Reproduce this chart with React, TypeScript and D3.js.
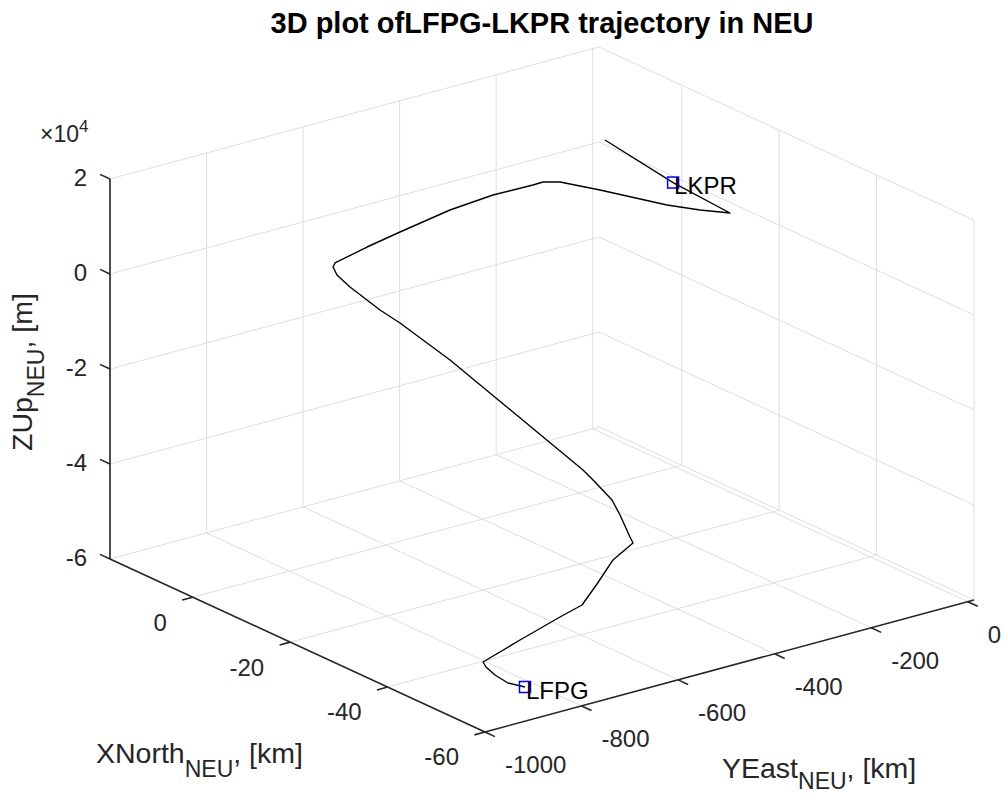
import React from "react";
import * as d3 from "d3";

// LFPG -> LKPR track in the local NEU frame (origin near LKPR)
const northKm = [
  -54.83, -52.33, -49.96, -48.11, -47.3, -51.82, -57.06, -59.1, -59.21, -59.02,
  -59.66, -58.65, -55.51, -52.87, -47.9, -44.44, -11.78, 0.47, 5.37, 12.72,
  15.89, 17.0, 16.85, 14.44, 11.96, 8.2, 4.97, 1.96, 1.2, -0.08,
  -3.09, -8.13, -10.62, -12.87, 0, 15.77,
];
const eastKm = [
  -865, -875, -878, -878, -876, -845, -815, -790, -760, -725,
  -690, -686, -675, -665, -650, -640, -586, -566, -558, -546,
  -541, -538, -535.4, -493.4, -450.1, -384.5, -328, -275.5, -262.4, -240.1,
  -187.6, -99.7, -56.4, -17, -5, 13,
];
const upM = [
  -56674, -56741, -56094, -55286, -54674, -48752, -42254, -39448, -35800, -31794,
  -28874, -28202, -25358, -23718, -22697, -22078, -15850, -14402, -14206, -13169,
  -12276, -11200, -10358, -7004, -3857, 753, 3889, 5977, 6606, 6600,
  4900, 1716, 650, 4, 0, 1004,
];

const airportNames = ["LFPG", "LKPR"];
const airportNorth = [-54.83, 0];
const airportEast = [-865, -5];
const airportUp = [-56674, 0];

const xLim = [-60, 17];
const yLim = [-1000, 13];
const zLim = [-60000, 20000];
const xTicks = [0, -20, -40, -60];
const yTicks = [-1000, -800, -600, -400, -200, 0];
const zTicks = [20000, 0, -20000, -40000, -60000];

const FONT = "'Liberation Sans', Arial, Helvetica, sans-serif";
const TXT = "#262626";
const GRID = "#dedede";

export default function App() {
  // projected box: corner (xmax, ymin, zmin) and the three edge vectors
  const o = [110, 559];
  const ex = [375, 173];
  const ey = [489, -132];
  const ez = [0, -380];

  const sx = d3.scaleLinear().domain([xLim[1], xLim[0]]).range([0, 1]);
  const sy = d3.scaleLinear().domain(yLim).range([0, 1]);
  const sz = d3.scaleLinear().domain(zLim).range([0, 1]);
  const P = (x: number, y: number, z: number): [number, number] => [
    o[0] + sx(x) * ex[0] + sy(y) * ey[0] + sz(z) * ez[0],
    o[1] + sx(x) * ex[1] + sy(y) * ey[1] + sz(z) * ez[1],
  ];
  const seg = (a: [number, number], b: [number, number]) =>
    `M${a[0]},${a[1]}L${b[0]},${b[1]}`;

  const [x0, x1] = xLim;
  const [y0, y1] = yLim;
  const [z0, z1] = zLim;

  const grid: string[] = [];
  // floor
  xTicks.forEach((v) => grid.push(seg(P(v, y0, z0), P(v, y1, z0))));
  yTicks.forEach((v) => grid.push(seg(P(x0, v, z0), P(x1, v, z0))));
  // back-left wall (x = xmax)
  yTicks.forEach((v) => grid.push(seg(P(x1, v, z0), P(x1, v, z1))));
  zTicks.forEach((v) => grid.push(seg(P(x1, y0, v), P(x1, y1, v))));
  // back-right wall (y = ymax)
  xTicks.forEach((v) => grid.push(seg(P(v, y1, z0), P(v, y1, z1))));
  zTicks.forEach((v) => grid.push(seg(P(x0, y1, v), P(x1, y1, v))));

  const tl = 11;
  const dX = [-0.908, -0.419]; // +x on screen
  const dY = [-0.9655, 0.2606]; // -y on screen

  const line = d3
    .line<number>()
    .x((i) => P(northKm[i], eastKm[i], upM[i])[0])
    .y((i) => P(northKm[i], eastKm[i], upM[i])[1]);

  const ms = 11;

  return (
    <svg
      width={1007}
      height={794}
      style={{ position: "absolute", left: 0, top: 0, background: "#fff" }}
      fontFamily={FONT}
    >
      <g fill="none" stroke={GRID} strokeWidth={1}>
        {grid.map((d, i) => (
          <path key={i} d={d} />
        ))}
      </g>

      {/* axes */}
      <g fill="none" stroke={TXT} strokeWidth={1.6}>
        <path d={seg(P(x1, y0, z0), P(x1, y0, z1))} />
        <path d={seg(P(x1, y0, z0), P(x0, y0, z0))} />
        <path d={seg(P(x0, y0, z0), P(x0, y1, z0))} />
        {zTicks.map((v) => {
          const p = P(x1, y0, v);
          return <path key={"zt" + v} d={seg(p, [p[0] + dX[0] * tl, p[1] + dX[1] * tl])} />;
        })}
        {xTicks.map((v) => {
          const p = P(v, y0, z0);
          return <path key={"xt" + v} d={seg(p, [p[0] + dY[0] * tl, p[1] + dY[1] * tl])} />;
        })}
        {yTicks.map((v) => {
          const p = P(x0, v, z0);
          return <path key={"yt" + v} d={seg(p, [p[0] - dX[0] * tl, p[1] - dX[1] * tl])} />;
        })}
      </g>

      <g fill={TXT} fontSize={24}>
        {zTicks.map((v) => {
          const p = P(x1, y0, v);
          return (
            <text key={"zl" + v} x={87} y={p[1] - 1.5} dy="0.35em" textAnchor="end">
              {String(v / 1e4)}
            </text>
          );
        })}
        {xTicks.map((v) => {
          const p = P(v, y0, z0);
          return (
            <text key={"xl" + v} x={p[0] - 26} y={p[1] + 25} dy="0.35em" textAnchor="end">
              {String(v)}
            </text>
          );
        })}
        {yTicks.map((v) => {
          const p = P(x0, v, z0);
          return (
            <text key={"yl" + v} x={p[0] + 20} y={p[1] + 33} dy="0.35em" textAnchor="start">
              {String(v)}
            </text>
          );
        })}
        <text x={40} y={142} fontSize={23}>
          ×10<tspan fontSize={17} dy={-10}>4</tspan>
        </text>
      </g>

      {/* axis labels */}
      <g fill={TXT} fontSize={28.5}>
        <text x={96} y={763}>
          XNorth<tspan fontSize={23} dy={14}>NEU</tspan>
          <tspan dy={-14}>, [km]</tspan>
        </text>
        <text x={722} y={778}>
          YEast<tspan fontSize={23} dy={11}>NEU</tspan>
          <tspan dy={-11}>, [km]</tspan>
        </text>
        <text transform="translate(32,451) rotate(-90)">
          ZUp<tspan fontSize={23} dy={12}>NEU</tspan>
          <tspan dy={-12}>, [m]</tspan>
        </text>
      </g>

      <text x={542} y={33} textAnchor="middle" fontSize={29} fontWeight="bold" fill="#000">
        3D plot ofLFPG-LKPR trajectory in NEU
      </text>

      {/* trajectory */}
      <path d={line(d3.range(northKm.length)) || ""} fill="none" stroke="#000" strokeWidth={1.4} strokeLinejoin="round" />

      {airportNames.map((name, i) => {
        const p = P(airportNorth[i], airportEast[i], airportUp[i]);
        return (
          <g key={name}>
            <rect
              x={p[0] - ms / 2}
              y={p[1] - ms / 2}
              width={ms}
              height={ms}
              fill="none"
              stroke="#0000ff"
              strokeWidth={1.5}
            />
            <text x={p[0] + 1} y={p[1] + 3.5} dy="0.35em" fontSize={24} fill="#000">
              {name}
            </text>
          </g>
        );
      })}
    </svg>
  );
}
